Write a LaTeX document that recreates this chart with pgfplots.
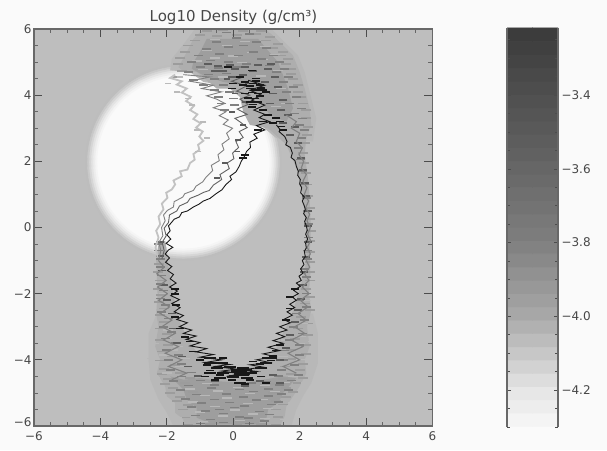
\documentclass[border=0pt]{standalone}
\usepackage{pgfplots}
\pgfplotsset{compat=1.18}
\usepackage{fontspec}
\setmainfont{DejaVu Sans}
\definecolor{pg}{HTML}{FAFAFA}
\definecolor{bgp}{HTML}{BEBEBE}
\definecolor{cO}{HTML}{B8B8B8}
\definecolor{cB}{HTML}{AEAEAE}
\definecolor{cP}{HTML}{9E9E9E}
\definecolor{cH}{HTML}{B8B8B8}
\definecolor{cL}{HTML}{9C9C9C}
\definecolor{cM}{HTML}{808080}
\definecolor{cD}{HTML}{5C5C5C}
\definecolor{cK}{HTML}{181818}
\definecolor{frm}{HTML}{686868}
\pgfplotsset{
 ring/.style={only marks,mark=*,mark size=#1,mark options={draw=none}},
 dl/.style={only marks,mark=-,mark size=5pt,color=cL,mark options={line width=1.8pt}},
 dh/.style={only marks,mark=-,mark size=5pt,color=cH,mark options={line width=1.3pt}},
 dm/.style={only marks,mark=-,mark size=4.5pt,color=cM,mark options={line width=1.6pt}},
 dd/.style={only marks,mark=-,mark size=4pt,color=cD,mark options={line width=1.8pt}},
 dk/.style={only marks,mark=-,mark size=4pt,color=cK,mark options={line width=1.7pt}},
}
\begin{document}
\begin{tikzpicture}[x=1pt,y=1pt]
\fill[pg] (0,0) rectangle (607,450);
\path[use as bounding box] (0,0) rectangle (607,450);
\node[font=\fontsize{15}{17}\selectfont,text=black!72] at (233.5,433) {Log10 Density (g/cm³)};
\begin{axis}[
 at={(34pt,24pt)},anchor=south west,scale only axis,width=398.5pt,height=397pt,
 xmin=-6,xmax=6,ymin=-6,ymax=6,
 clip marker paths=true,
 axis background/.style={fill=bgp},
 axis line style={frm,line width=1.2pt},
 tick align=inside,
 major tick length=8pt,minor tick length=4pt,
 tick style={black!70,line width=0.8pt},
 minor tick style={black!60,line width=0.8pt},
 xtick={-6,-4,-2,0,2,4,6},ytick={-6,-4,-2,0,2,4,6},
 xticklabels={−6,−4,−2,0,2,4,6},
 yticklabels={\raisebox{8pt}{−6},−4,−2,0,2,4,\raisebox{-6pt}{6}},
 minor x tick num=3,minor y tick num=3,
 tick label style={font=\fontsize{12}{14}\selectfont,text=black!72},
 xtick pos=both,ytick pos=both,xticklabel pos=bottom,yticklabel pos=left,
 xticklabel style={yshift=-2pt},
 yticklabel style={xshift=1pt},
 axis on top,clip=true,
]
% the white disk with its soft rim
\addplot[ring=98pt,color=black!26] coordinates {(-1.5,1.97)};
\addplot[ring=96pt,color=black!21] coordinates {(-1.5,1.97)};
\addplot[ring=94pt,color=black!16] coordinates {(-1.5,1.97)};
\addplot[ring=92pt,color=black!11] coordinates {(-1.5,1.97)};
\addplot[ring=90pt,color=black!7] coordinates {(-1.5,1.97)};
\addplot[ring=88pt,color=black!4] coordinates {(-1.5,1.97)};
\addplot[ring=86pt,color=pg] coordinates {(-1.5,1.97)};
% faint outer fringe of the shell, bottom and top
\addplot[fill=cO,draw=none] coordinates {
(-2.3,-2.6)(-2.55,-3.2)(-2.55,-4.0)(-2.5,-4.6)(-2.25,-5.2)(-2.0,-5.6)(-1.8,-6)(1.75,-6)(1.9,-5.5)(2.1,-5.1)(2.35,-4.7)(2.55,-4.1)(2.55,-3.2)(2.4,-2.6)(1.8,-2.6)(1.3,-3.6)(0.8,-4.1)(0,-4.3)(-0.8,-4.1)(-1.3,-3.6)(-1.75,-2.6)
} --cycle;
\addplot[fill=cO,draw=none] coordinates {
(-1.15,6)(-1.45,5.6)(-1.85,5.1)(-1.9,4.75)(-1.3,4.7)(-0.9,4.4)(-0.3,4.3)(0.3,4.2)(0.6,3.8)(0.7,3.2)(1.3,2.7)(2.4,2.6)(2.5,3.3)(2.3,4.1)(2.15,4.7)(1.95,5.2)(1.55,5.6)(1.15,6)
} --cycle;
% envelope of the shell
\addplot[fill=cB,draw=none] coordinates {
(-2.25,-0.5)(-2.32,-1)(-2.28,-2)(-2.32,-2.6)(-2.25,-3)(-2.35,-3.6)(-2.2,-4)(-2.3,-4.4)(-2.05,-4.8)(-2.0,-5.1)(-1.75,-5.3)(-1.75,-5.6)(-1.5,-5.8)(-1.5,-6)(1.4,-6)(1.55,-5.7)(1.6,-5.4)(1.8,-5.1)(2.0,-4.8)(2.2,-4.4)(2.15,-4)(2.3,-3.6)(2.22,-3)(2.35,-2.5)(2.28,-2)(2.32,-1.4)(2.3,-0.8)(2.34,0)(2.3,0.8)(2.25,1.5)(2.15,2.2)(2.2,2.7)(2.35,3.1)(2.3,3.6)(2.15,4.2)(2.0,4.7)(1.8,5.2)(1.5,5.5)(1.2,5.8)(0.95,6)(-0.9,6)(-1.2,5.7)(-1.4,5.3)(-1.65,4.85)(-1.5,4.72)(-1.1,4.7)(-0.8,4.45)(-0.5,4.2)(-0.1,4.2)(0.2,3.95)(0.3,3.5)(0.5,3.1)(1.05,3.0)(1.6,2.5)(1.9,1.8)(2.1,1)(2.2,0)(2.2,-1)(2.05,-1.7)(1.9,-2.2)(1.7,-2.8)(1.45,-3.3)(1.25,-3.8)(0.8,-4.1)(0.3,-4.3)(-0.3,-4.25)(-0.85,-4.05)(-1.15,-3.7)(-1.4,-3.3)(-1.6,-2.9)(-1.75,-2.3)(-1.85,-1.8)(-1.95,-1.2)(-2.0,-0.7)(-2.05,-0.4)
} --cycle;
\addplot[fill=cP,draw=none] coordinates {
(-1.9,-4.5)(-1.5,-4.6)(-1.0,-4.55)(-0.4,-4.65)(0.3,-4.7)(0.9,-4.6)(1.5,-4.5)(1.9,-4.55)(1.5,-5.0)(1.35,-5.3)(1.05,-5.5)(1.0,-5.75)(0.7,-5.95)(-0.6,-5.95)(-1.1,-5.75)(-1.1,-5.45)(-1.4,-5.2)(-1.5,-4.9)
} --cycle;
\addplot[fill=cP,draw=none] coordinates {
(-0.8,5.7)(0.75,5.7)(1.0,5.4)(1.35,5)(1.5,4.6)(1.65,4.2)(1.8,3.6)(1.6,3.2)(1.1,3.4)(0.7,4.0)(0.3,4.3)(-0.3,4.4)(-0.9,4.6)(-1.25,4.8)(-1.2,5)(-1.0,5.3)
} --cycle;
% light dashes
\addplot[dl] coordinates {
(-1.35,-5.97)(-0.7,-5.95)(0.1,-5.96)(0.85,-5.94)(1.3,-5.97)
(-1.45,-5.74)(1.35,-5.72)(-1.5,-5.5)(1.3,-5.5)
(-1.35,-5.37)(1.5,-5.35)
(-1.7,-5.25)(1.3,-5.25)(-1.6,-5.12)(1.6,-5.12)
(-1.9,-5.0)(-1.2,-4.98)(1.2,-5.0)(1.8,-4.98)
(-1.8,-4.86)(1.6,-4.84)
(-2.05,-4.72)(-1.45,-4.7)(1.25,-4.72)(1.95,-4.7)
(-1.95,-4.57)(-1.3,-4.55)(1.5,-4.58)(2.1,-4.55)
(-2.15,-4.42)(-1.6,-4.4)(1.75,-4.42)(2.0,-4.3)
(-2.1,-4.27)(-1.75,-4.15)(1.55,-4.2)(2.1,-4.12)
(-2.2,-4.02)(-1.85,-3.9)(1.8,-3.98)(2.2,-3.82)
(-2.15,-3.75)(-1.95,-3.55)(1.75,-3.7)(2.2,-3.55)
(-2.2,-3.4)(-2.0,-3.22)(1.85,-3.38)(2.25,-3.25)
(-2.2,-3.05)(-2.1,-2.85)(1.95,-3.05)(2.25,-2.9)
(-2.22,-2.65)(-2.1,-2.45)(2.05,-2.7)(2.3,-2.5)
(-2.25,-2.25)(-2.18,-2.05)(2.15,-2.3)(2.3,-2.1)
(-2.28,-1.85)(-2.2,-1.6)(2.2,-1.85)(2.32,-1.6)
(-2.28,-1.35)(-2.25,-1.1)(2.3,-1.35)(2.32,-1.05)
(2.3,-0.75)(2.32,-0.4)(2.34,-0.1)(2.32,0.25)(2.3,0.6)(2.26,0.95)(2.22,1.3)
(2.18,1.65)(2.12,1.95)(2.1,2.25)(2.15,2.55)(2.22,2.8)(2.25,3.05)(2.2,3.3)(2.2,3.55)
(2.1,3.75)(2.05,3.95)(1.95,4.1)(1.95,4.3)(1.8,4.5)(1.75,4.65)(1.75,4.8)
(1.6,4.95)(1.65,5.1)(1.45,5.2)(1.5,5.3)(1.2,5.42)(1.35,5.55)(1.0,5.65)(1.1,5.75)(0.7,5.85)(0.85,5.95)
(-0.8,5.95)(-0.3,5.97)(0.3,5.95)(-1.0,5.82)(-0.5,5.8)(0.1,5.83)
(-1.15,5.65)(-1.35,5.5)(-1.45,5.3)(-1.6,5.12)
(-1.65,4.95)(-1.55,4.72)(-1.7,4.55)
};
% lighter streaks in the shell
\addplot[dh] coordinates {
(-0.9,-5.87)(0.2,-5.83)(0.95,-5.78)(-0.3,-5.7)(0.6,-5.64)(-1.0,-5.58)(0.05,-5.52)(1.05,-5.47)(-0.55,-5.4)(0.45,-5.33)(-1.2,-5.27)(0.9,-5.2)(-0.2,-5.15)(-0.85,-5.08)(0.5,-5.02)(1.25,-4.95)(-0.45,-4.94)(-1.3,-4.88)(0.15,-4.83)(0.95,-4.77)(-0.8,-4.72)(1.55,-4.68)(-0.05,-4.6)
(-0.55,5.68)(0.35,5.62)(0.95,5.48)(-0.2,5.5)(-0.8,5.35)(0.55,5.3)(1.25,5.22)(0.0,5.18)(-0.55,5.12)(0.9,5.08)(-1.1,5.03)(0.25,4.98)(1.35,4.75)(-0.3,4.55)(0.85,4.58)(-0.9,4.78)(1.45,4.2)(1.6,3.75)(1.3,3.65)
(-2.1,-2.0)(-2.05,-2.6)(-1.95,-3.1)(-1.8,-3.7)(-1.6,-4.2)(2.2,-2.2)(2.1,-2.9)(2.0,-3.5)(1.75,-4.15)
(-2.0,-3.35)(-1.65,-3.6)(-2.1,-3.85)(-1.45,-3.95)(-2.0,-4.4)(1.6,-3.4)(2.05,-3.3)(1.5,-3.9)(2.05,-4.0)(1.8,-4.5)
(-2.4,-3.5)(-2.45,-3.95)(-2.35,-4.55)(2.4,-3.45)(2.4,-4.0)(2.2,-4.7)(-1.95,-5.3)(1.8,-5.3)(-1.7,-5.75)(1.55,-5.8)
};
% mid grey dashes
\addplot[dm] coordinates {
(-1.0,-5.92)(-0.3,-5.9)(0.5,-5.92)(-0.7,-5.8)(0.2,-5.72)(0.95,-5.85)
(-1.15,-5.68)(-0.3,-5.62)(0.45,-5.75)(1.1,-5.65)
(-0.85,-5.55)(0.05,-5.44)(0.8,-5.56)
(-1.25,-5.43)(-0.4,-5.5)(0.35,-5.4)(1.15,-5.35)
(-0.95,-5.3)(-0.1,-5.29)(0.7,-5.22)(1.35,-5.28)
(-1.45,-5.18)(-0.55,-5.2)(0.3,-5.12)(1.05,-5.1)
(-1.1,-5.05)(-0.2,-5.04)(0.6,-4.96)(1.45,-5.03)
(-1.6,-4.92)(-0.65,-4.86)(0.2,-4.9)(1.05,-4.88)(1.65,-4.92)
(-1.35,-4.78)(-0.55,-4.76)(0.55,-4.7)(1.4,-4.76)
(-1.8,-4.64)(-1.0,-4.62)(1.0,-4.65)(1.75,-4.62)
(-1.55,-4.5)(-1.25,-4.38)(1.35,-4.48)(1.95,-4.45)
(-1.9,-4.3)(-1.55,-4.12)(1.45,-4.3)(1.85,-4.15)
(-1.95,-4.0)(-1.65,-3.85)(1.5,-4.0)(2.0,-3.85)
(-2.0,-3.7)(-1.75,-3.5)(1.55,-3.72)(2.0,-3.55)
(-2.05,-3.35)(-1.85,-3.15)(1.7,-3.4)(2.1,-3.2)
(-2.1,-3.0)(-1.95,-2.75)(1.8,-3.0)(2.15,-2.8)
(-2.15,-2.55)(-2.05,-2.35)(1.9,-2.6)(2.2,-2.4)
(-2.2,-2.15)(-2.1,-1.9)(2.0,-2.2)(2.2,-2.0)
(-2.2,-1.7)(-2.15,-1.45)(2.1,-1.75)(2.2,-1.5)
(-2.2,-1.2)(-2.2,-0.95)(2.15,-1.25)(2.25,-0.95)
(-2.25,-0.7)(-2.25,-0.5)(2.25,-0.7)(2.26,-0.3)(2.27,0.1)(2.25,0.5)(2.2,0.9)(2.15,1.3)
(2.08,1.7)(2.02,2.05)(1.95,2.4)(2.05,2.7)(2.15,2.95)(2.0,3.1)(2.1,3.3)(1.85,3.45)(2.05,3.6)
(1.7,3.75)(1.9,3.95)(1.6,4.1)(1.8,4.25)(1.5,4.4)(1.65,4.55)(1.3,4.7)(1.55,4.8)
(1.1,4.9)(1.4,5.0)(0.85,5.1)(1.2,5.2)(0.6,5.3)(1.0,5.42)(0.3,5.5)(0.7,5.6)(0.1,5.72)(0.5,5.85)(-0.2,5.9)
(-0.5,5.6)(-0.15,5.45)(-0.8,5.4)(-0.4,5.25)(-1.05,5.2)(0.15,5.2)(-0.7,5.05)(-0.15,5.0)(0.4,4.95)(-1.25,5.0)
(-1.0,4.85)(-0.45,4.82)(0.1,4.85)(-1.35,4.7)(-0.75,4.62)(-0.2,4.65)
(-1.2,4.45)(-0.55,4.48)(-0.9,4.3)(-0.3,4.3)(-0.55,4.15)(-0.1,4.1)(-0.45,3.95)(0,3.9)(-0.35,3.75)(0.05,3.7)(-0.25,3.55)
};
% dark dashes
\addplot[dd] coordinates {
(-0.75,4.95)(-0.45,4.88)(-0.1,4.9)(0.35,4.85)(0.75,4.92)(1.15,4.95)(-0.3,4.72)(0.6,4.72)(1.25,4.55)
(0.05,4.78)(-0.55,4.72)(0.3,4.62)(1.05,4.78)(-0.05,4.55)
(0.95,4.4)(1.35,4.25)(1.2,4.05)(1.5,3.85)(1.1,3.75)(1.45,3.55)(1.65,3.4)(1.5,3.15)(1.85,3.05)(1.7,2.8)(1.95,2.55)
(2.05,2.1)(2.1,1.75)(2.15,1.35)(2.2,0.95)(2.24,0.5)(2.24,0.05)(2.24,-0.45)(2.2,-0.9)(2.12,-1.35)(2.1,-1.75)(2.05,-2.15)(1.95,-2.5)(1.85,-2.85)(1.7,-3.25)(1.6,-3.65)(1.4,-4.0)(1.2,-4.45)(1.4,-4.7)(0.8,-4.65)
(0.35,-4.8)(-0.55,-4.65)(-1.05,-4.5)(-1.35,-4.2)(-1.55,-3.9)(-1.7,-3.5)(-1.8,-3.05)(-1.85,-2.6)(-2.0,-2.2)(-2.1,-1.75)(-2.15,-1.3)(-2.2,-0.85)(-2.2,-0.45)
};
% gray flanks of the loop
\addplot[color=cM,line width=1.1pt] coordinates {
(1.6,3.4)(1.9,3.2)(1.75,3.0)(2.0,2.85)(1.9,2.6)(2.08,2.4)(1.98,2.2)(2.12,2.0)(2.05,1.8)(2.2,1.6)(2.1,1.4)(2.22,1.2)(2.14,1.0)(2.27,0.8)(2.18,0.6)(2.3,0.4)(2.22,0.2)(2.32,0)(2.24,-0.2)(2.33,-0.4)(2.23,-0.6)(2.32,-0.8)(2.2,-1)(2.3,-1.2)(2.15,-1.4)(2.28,-1.6)(2.08,-1.8)(2.28,-2)(2.02,-2.2)(2.25,-2.4)(1.95,-2.6)(2.2,-2.8)(1.85,-3)(2.15,-3.2)(1.75,-3.4)(2.1,-3.6)(1.65,-3.8)(2.0,-4.0)(1.5,-4.2)(1.9,-4.4)
};
\addplot[color=cM,line width=1.1pt] coordinates {
(-2.25,-1.0)(-2.08,-1.2)(-2.3,-1.4)(-2.02,-1.6)(-2.28,-1.8)(-1.98,-2)(-2.25,-2.2)(-1.92,-2.4)(-2.2,-2.6)(-1.85,-2.8)(-2.15,-3.0)(-1.75,-3.2)(-2.1,-3.4)(-1.65,-3.6)(-2.05,-3.8)(-1.55,-4.0)(-1.95,-4.2)(-1.4,-4.4)(-1.85,-4.6)
};
% lightest contour
\addplot[color=black!24,line width=1.8pt] coordinates {
(-2.28,-0.9)(-2.34,-0.6)(-2.25,-0.3)(-2.32,-0.1)(-2.2,0.1)(-2.25,0.33)(-2.1,0.55)(-2.15,0.72)(-1.98,0.9)(-2.02,1.05)(-1.85,1.15)(-1.75,1.3)(-1.8,1.42)(-1.55,1.55)(-1.6,1.7)(-1.38,1.75)(-1.3,1.95)(-1.16,2.05)(-1.2,2.22)(-1.02,2.35)(-1.06,2.5)(-0.9,2.62)(-1.02,2.75)(-0.92,2.9)(-1.12,3.02)(-0.98,3.15)(-1.2,3.28)(-1.08,3.42)(-1.3,3.55)(-1.18,3.68)(-1.42,3.82)(-1.28,3.95)(-1.55,4.08)(-1.4,4.2)(-1.7,4.32)(-1.55,4.42)(-1.9,4.52)(-1.75,4.62)
};
\addplot[dl,color=black!27,mark size=3pt] coordinates {(-1.7,4.1)(-1.25,3.7)(-0.9,3.2)(-0.8,2.7)(-1.35,3.9)(-1.95,4.35)(-1.6,4.55)(-1.1,2.95)(-1.05,2.3)};
% middle contour
\addplot[color=black!50,line width=0.9pt] coordinates {
(-2.25,-1.0)(-2.18,-0.7)(-2.24,-0.45)(-2.12,-0.25)(-2.16,0)(-2.05,0.2)(-2.1,0.38)(-1.98,0.52)(-1.8,0.62)(-1.78,0.78)(-1.52,0.92)(-1.46,1.02)(-1.2,1.12)(-1.12,1.25)(-0.92,1.38)(-0.82,1.52)(-0.62,1.72)(-0.66,1.88)(-0.42,2.02)(-0.46,2.2)(-0.28,2.35)(-0.34,2.52)(-0.12,2.68)(-0.2,2.85)(-0.02,3.0)(-0.3,3.12)(-0.15,3.25)(-0.42,3.38)(-0.22,3.5)(-0.6,3.62)(-0.25,3.75)(-0.5,3.88)(-0.8,3.98)(-0.35,4.1)(-0.95,4.2)(-0.6,4.3)(-1.3,4.42)(-0.7,4.55)(-1.5,4.62)
};
% dark contour
\addplot[color=black!62,line width=0.9pt] coordinates {
(-2.15,-0.95)(-2.08,-0.7)(-2.14,-0.45)(-2.02,-0.25)(-2.08,-0.02)(-1.95,0.15)(-1.92,0.38)(-1.7,0.5)(-1.62,0.65)(-1.38,0.76)(-1.3,0.88)(-1.05,0.98)(-0.9,1.06)(-0.72,1.12)(-0.6,1.28)(-0.35,1.45)(-0.4,1.6)(-0.12,1.78)(-0.18,1.95)(0.02,2.08)(-0.02,2.25)(0.16,2.42)(0.08,2.6)(0.3,2.72)(0.18,2.9)(0.42,3.02)(0.22,3.18)(0.05,3.3)(0.42,3.42)(0.12,3.58)(0.45,3.72)(0.2,3.88)(0.5,4.0)(0.1,4.12)(0.4,4.28)(-0.05,4.42)(0.3,4.55)
};
\addplot[dd,mark size=3pt] coordinates {(0.15,2.65)(0.3,3.1)(-0.05,3.5)(0.35,3.8)(0.05,4.05)(0.45,4.35)(-0.2,4.5)(0.1,2.3)(-0.25,1.95)(-0.5,1.5)};
% black contour: closed loop, from the upper right round the bottom and up the left
\addplot[color=cK,line width=0.9pt] coordinates {
(1.3,3.1)(1.42,2.95)(1.38,2.9)(1.55,2.75)(1.62,2.6)(1.58,2.5)(1.72,2.42)(1.78,2.25)(1.74,2.12)(1.86,2.02)(1.9,1.85)(1.96,1.7)(1.94,1.58)(2.02,1.45)(2.0,1.32)(2.06,1.2)(2.03,1.05)(2.14,0.92)(2.08,0.8)(2.13,0.68)(2.17,0.55)(2.12,0.42)(2.2,0.3)(2.15,0.18)(2.2,0.05)(2.23,-0.08)(2.18,-0.2)(2.24,-0.35)(2.18,-0.48)(2.2,-0.62)(2.14,-0.72)(2.17,-0.88)(2.08,-1.0)(2.13,-1.12)(2.03,-1.25)(2.1,-1.38)(1.98,-1.47)(2.05,-1.6)(1.9,-1.68)(2.02,-1.78)(1.82,-1.9)(1.96,-2.0)(1.78,-2.1)(1.9,-2.2)(1.7,-2.32)(1.85,-2.42)(1.62,-2.55)(1.78,-2.65)(1.52,-2.78)(1.72,-2.88)(1.4,-3.0)(1.62,-3.1)(1.3,-3.2)(1.55,-3.3)(1.2,-3.42)(1.5,-3.5)(1.05,-3.62)(1.4,-3.72)(0.9,-3.82)(1.25,-3.9)(0.7,-4.0)(1.1,-4.08)(0.5,-4.15)(0.9,-4.22)(0.3,-4.3)(0.7,-4.35)(0.1,-4.4)(0.5,-4.45)(-0.2,-4.5)(0.25,-4.42)(-0.35,-4.34)(0.1,-4.28)(-0.55,-4.2)(-0.1,-4.14)(-0.85,-4.08)(-0.35,-4.0)(-1.0,-3.92)(-0.6,-3.84)(-1.12,-3.76)(-0.8,-3.66)(-1.3,-3.58)(-1.0,-3.48)(-1.42,-3.38)(-1.12,-3.28)(-1.5,-3.2)(-1.25,-3.1)(-1.62,-3.0)(-1.38,-2.88)(-1.7,-2.78)(-1.5,-2.66)(-1.78,-2.55)(-1.6,-2.42)(-1.85,-2.3)(-1.62,-2.18)(-1.88,-2.06)(-1.68,-1.92)(-1.92,-1.8)(-1.72,-1.68)(-1.9,-1.55)(-1.8,-1.42)(-1.98,-1.3)(-1.85,-1.18)(-2.04,-1.05)(-1.92,-0.92)(-2.05,-0.8)(-1.95,-0.68)(-1.82,-0.6)(-2.02,-0.48)(-1.88,-0.35)(-2.0,-0.22)(-1.9,-0.1)(-1.95,0.05)(-1.86,0.15)(-1.78,0.25)(-1.62,0.32)(-1.55,0.45)(-1.38,0.5)(-1.2,0.62)(-1.04,0.7)(-0.9,0.8)(-0.7,0.88)(-0.52,1.02)(-0.34,1.14)(-0.22,1.3)(-0.05,1.45)(-0.1,1.55)(0.08,1.68)(0.18,1.85)(0.24,2.0)(0.34,2.15)(0.4,2.3)(0.52,2.42)(0.5,2.58)(0.72,2.7)(0.62,2.82)(0.95,2.95)(0.7,3.08)(1.1,3.2)(0.78,3.32)(0.95,3.42)(0.62,3.55)(0.95,3.7)(0.55,3.85)(0.85,4.0)(0.5,4.15)(0.95,4.3)(0.45,4.45)
};
% black dashes
\addplot[dk] coordinates {
(0.05,-4.3)(0.3,-4.36)(0.15,-4.42)(0.45,-4.3)(-0.1,-4.38)(0.25,-4.24)(0.6,-4.4)(0.0,-4.48)(0.2,-4.32)(0.35,-4.46)
(-0.4,-4.45)(-0.7,-4.32)(-0.85,-4.5)(-0.45,-4.2)(-0.8,-4.15)(-1.0,-4.0)(-0.55,-4.6)(0.5,-4.6)(0.85,-4.5)(1.0,-4.7)
(0.8,-4.12)(1.15,-4.02)(1.2,-3.88)(1.0,-3.95)(1.3,-3.72)(1.4,-3.55)(-1.2,-3.75)(-1.3,-3.45)(-1.45,-3.3)(-1.6,-3.05)(-1.75,-2.7)(-1.72,-2.35)(-1.75,-2.0)(-1.75,-1.85)
(1.7,-2.45)(1.72,-2.1)(1.6,-2.8)(1.85,-1.85)
(-0.3,-3.95)(0.6,-4.05)(-0.05,-4.62)(0.35,-4.72)
(0.5,4.28)(0.85,4.22)(0.65,4.15)(1.0,4.1)(0.6,4.35)(0.35,4.4)(0.8,3.98)(0.45,3.92)(0.75,3.8)(0.55,3.65)(0.9,3.55)(0.7,4.5)(0.2,4.55)(0.55,4.08)(0.8,4.3)
(1.2,3.15)(1.45,3.05)(1.05,3.4)(0.9,3.2)(1.3,3.3)(0.75,2.95)(0.35,2.2)(0.3,2.1)(0.55,4.75)(-0.15,4.85)
(0.0,4.35)(0.3,4.3)(0.7,4.42)(-0.05,4.2)(0.5,4.2)(0.9,4.15)(0.35,4.05)(0.75,4.05)(0.5,3.8)(0.65,3.9)(0.6,3.72)(1.4,3.2)(1.5,2.95)
};
\addplot[dk,mark size=6pt,mark options={line width=2pt}] coordinates {
(-0.7,-3.94)(1.15,-3.94)(-0.7,-4.09)(-0.35,-4.1)(1.0,-4.09)(-0.5,-4.24)(-0.1,-4.22)(0.3,-4.24)(0.85,-4.25)(-0.7,-4.39)(-0.3,-4.4)(0.1,-4.37)(0.45,-4.41)(-0.4,-4.55)(0.0,-4.53)(0.4,-4.56)(0.2,-4.7)(0.15,-4.3)(0.2,-4.46)
};
\end{axis}
% colour bar
\begin{axis}[
 at={(507pt,23pt)},anchor=south west,scale only axis,width=51pt,height=399pt,
 xmin=0,xmax=1,ymin=-4.3,ymax=-3.218,
 axis x line=none,axis y line=box,
 axis line style={frm,line width=1.2pt},
 tick align=inside,major tick length=4pt,minor tick length=3pt,
 tick style={black!70,line width=0.7pt},
 ytick={-4.2,-4.0,-3.8,-3.6,-3.4},
 yticklabels={−4.2,−4.0,−3.8,−3.6,−3.4},
 minor ytick={-4.3,-4.25,-4.15,-4.1,-4.05,-3.95,-3.9,-3.85,-3.75,-3.7,-3.65,-3.55,-3.5,-3.45,-3.35,-3.3,-3.25},
 ytick pos=both,yticklabel pos=right,
 tick label style={font=\fontsize{12}{14}\selectfont,text=black!72},
 colormap={cbar}{gray(0cm)=(0.97);gray(1cm)=(0.90);gray(3cm)=(0.66);gray(5cm)=(0.50);gray(7cm)=(0.40);gray(9cm)=(0.31);gray(11cm)=(0.22)},
 point meta min=-4.3,point meta max=-3.2,
 axis on top,
]
\addplot[matrix plot*,mesh/cols=2,point meta=y,shader=faceted,faceted color=mapped color,line width=0.8pt] coordinates {
(0.25,-4.28)(0.75,-4.28)(0.25,-4.244)(0.75,-4.244)(0.25,-4.208)(0.75,-4.208)(0.25,-4.172)(0.75,-4.172)(0.25,-4.136)(0.75,-4.136)
(0.25,-4.1)(0.75,-4.1)(0.25,-4.064)(0.75,-4.064)(0.25,-4.028)(0.75,-4.028)(0.25,-3.992)(0.75,-3.992)(0.25,-3.956)(0.75,-3.956)
(0.25,-3.92)(0.75,-3.92)(0.25,-3.884)(0.75,-3.884)(0.25,-3.848)(0.75,-3.848)(0.25,-3.812)(0.75,-3.812)(0.25,-3.776)(0.75,-3.776)
(0.25,-3.74)(0.75,-3.74)(0.25,-3.704)(0.75,-3.704)(0.25,-3.668)(0.75,-3.668)(0.25,-3.632)(0.75,-3.632)(0.25,-3.596)(0.75,-3.596)
(0.25,-3.56)(0.75,-3.56)(0.25,-3.524)(0.75,-3.524)(0.25,-3.488)(0.75,-3.488)(0.25,-3.452)(0.75,-3.452)(0.25,-3.416)(0.75,-3.416)
(0.25,-3.38)(0.75,-3.38)(0.25,-3.344)(0.75,-3.344)(0.25,-3.308)(0.75,-3.308)(0.25,-3.272)(0.75,-3.272)(0.25,-3.236)(0.75,-3.236)
};
\end{axis}
\end{tikzpicture}
\end{document}
